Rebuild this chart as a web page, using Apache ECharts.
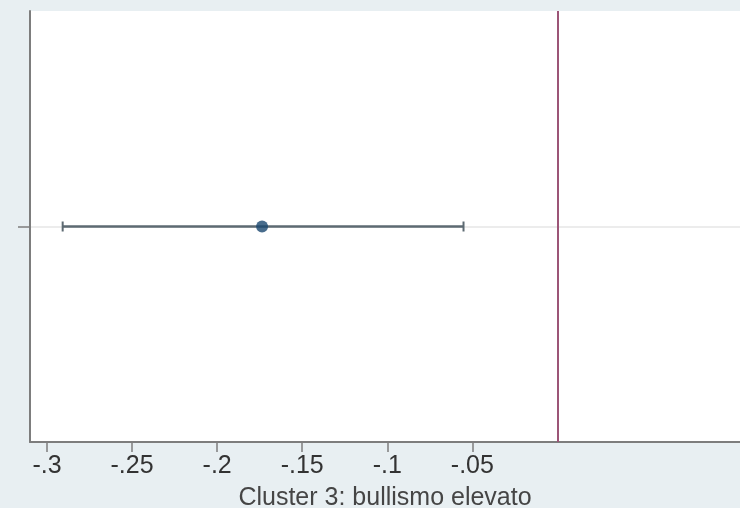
<!DOCTYPE html>
<html>
<head>
<meta charset="utf-8">
<script src="https://cdn.jsdelivr.net/npm/echarts@6/dist/echarts.min.js"></script>
<style>
html,body{margin:0;padding:0;background:#e8eff2;}
#chart{width:740px;height:508px;}
</style>
</head>
<body>
<div id="chart"></div>
<script>
const categories = ['Cluster 3: bullismo elevato'];
const estimates = [-0.1736];
const lowerCI = [-0.2908];
const upperCI = [-0.0552];
const xTicks = [-0.3, -0.25, -0.2, -0.15, -0.1, -0.05];
const refLine = 0;

const rows = categories.map((c, i) => [lowerCI[i], upperCI[i], i + 1]);
const points = categories.map((c, i) => [estimates[i], i + 1]);

const fmt = v => String(v).replace('0.', '.');

const chart = echarts.init(document.getElementById('chart'));
chart.setOption({
  backgroundColor: '#e8eff2',
  animation: false,
  grid: {left: 30, right: 0, top: 11, bottom: 66, show: true, backgroundColor: '#ffffff', borderWidth: 0,
    outerBoundsMode: 'none', containLabel: false},
  xAxis: {
    type: 'value', min: -0.31, max: 0.1073,
    name: categories[0], nameLocation: 'middle', nameGap: 44,
    nameTextStyle: {fontFamily: 'Liberation Sans', fontSize: 25, color: '#454545'},
    axisLine: {show: true, onZero: false, lineStyle: {color: '#7d7d7d', width: 2}},
    axisTick: {show: true, customValues: xTicks, length: 10, lineStyle: {color: '#7d7d7d', width: 1.5}},
    axisLabel: {show: true, customValues: xTicks, margin: 12, formatter: fmt,
      fontFamily: 'Liberation Sans', fontSize: 25, color: '#333'},
    splitLine: {show: false}
  },
  yAxis: {
    type: 'value', min: 0, max: categories.length + 1, interval: 1,
    axisLine: {show: true, onZero: false, lineStyle: {color: '#7d7d7d', width: 2}},
    axisTick: {show: true, customValues: categories.map((c, i) => i + 1), length: 12, lineStyle: {color: '#7d7d7d', width: 1.5}},
    axisLabel: {show: false},
    splitLine: {show: true, lineStyle: {color: '#ececec', width: 2}}
  },
  series: [
    {
      type: 'custom',
      data: rows,
      renderItem: function (params, api) {
        const lo = api.coord([api.value(0), api.value(2)]);
        const hi = api.coord([api.value(1), api.value(2)]);
        const c = 5;
        const st = {stroke: '#5d6a72', lineWidth: 2.5};
        return {type: 'group', children: [
          {type: 'line', shape: {x1: lo[0], y1: lo[1], x2: hi[0], y2: hi[1]}, style: st},
          {type: 'line', shape: {x1: lo[0], y1: lo[1] - c, x2: lo[0], y2: lo[1] + c}, style: {stroke: '#5d6a72', lineWidth: 2}},
          {type: 'line', shape: {x1: hi[0], y1: hi[1] - c, x2: hi[0], y2: hi[1] + c}, style: {stroke: '#5d6a72', lineWidth: 2}}
        ]};
      },
      z: 3
    },
    {
      type: 'scatter',
      data: points,
      symbol: 'circle',
      symbolSize: 12,
      itemStyle: {color: '#1a476f'},
      z: 4,
      markLine: {
        silent: true, symbol: 'none', label: {show: false},
        lineStyle: {color: '#9c5577', width: 2, type: 'solid'},
        data: [{xAxis: refLine}]
      }
    }
  ]
});
</script>
</body>
</html>
